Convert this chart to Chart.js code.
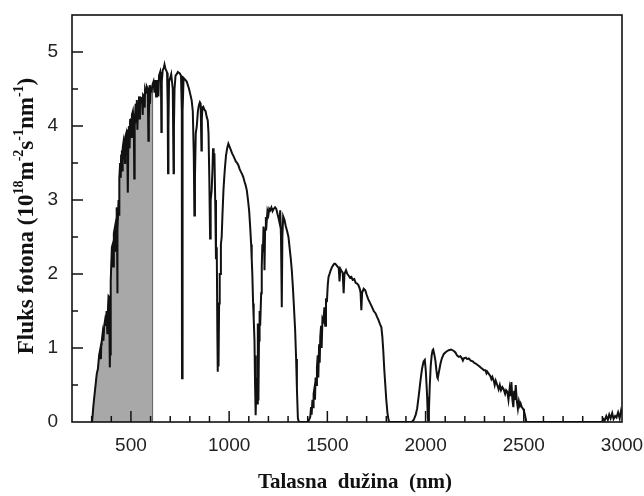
<!DOCTYPE html>
<html><head><meta charset="utf-8">
<script src="https://cdn.jsdelivr.net/npm/chart.js@4"></script>
<style>html,body{margin:0;padding:0;background:#fff}</style>
</head><body><canvas id="c" width="644" height="496"></canvas>
<script>
const wavelength = [302,310,318,326,332,338,345,347,349,351,356,360,364,368,372,376,380,382,386,389,392,393,395,396,398,403,407,410,413,419,423,424,427,428,430,431,432,437,440,441,445,448,450,454,457,458,462,466,470,471,476,478,480,483,485,487,491,493,496,500,502,505,510,515,517,519,524,527,530,533,536,541,543,546,551,556,560,562,567,570,572,577,581,586,589,591,595,597,600,605,610,615,620,625,628,632,637,640,643,649,653,655,657,662,667,671,675,680,684,687,689,691,694,700,705,709,713,717,719,722,727,733,739,744,749,755,759,760,762,764,768,775,784,790,796,803,809,815,820,823,826,830,835,841,846,851,855,859,861,864,868,874,880,886,891,895,899,903,906,911,915,918,921,925,929,933,937,940,942,944,946,949,952,954,958,962,966,971,975,979,984,990,996,1002,1008,1015,1021,1028,1034,1041,1047,1053,1060,1066,1072,1078,1084,1090,1096,1102,1107,1112,1115,1118,1122,1125,1129,1132,1134,1136,1139,1142,1146,1149,1152,1155,1158,1163,1166,1169,1172,1175,1178,1180,1183,1187,1191,1195,1200,1204,1209,1215,1221,1227,1234,1240,1247,1252,1256,1260,1264,1268,1271,1275,1282,1288,1295,1302,1308,1314,1319,1325,1330,1336,1341,1345,1350,1355,1400,1405,1410,1413,1417,1420,1424,1427,1430,1434,1437,1440,1444,1447,1451,1454,1458,1461,1464,1468,1471,1475,1480,1485,1489,1493,1498,1502,1506,1511,1517,1523,1530,1535,1540,1546,1552,1558,1562,1566,1572,1578,1583,1587,1595,1602,1608,1615,1622,1629,1637,1644,1651,1658,1665,1669,1673,1677,1685,1693,1700,1708,1719,1728,1736,1745,1753,1760,1767,1775,1780,1785,1790,1795,1800,1806,1812,1816,1930,1940,1950,1957,1965,1974,1982,1990,1996,2001,2005,2008,2011,2013,2017,2021,2026,2031,2036,2039,2044,2050,2055,2060,2062,2066,2071,2076,2083,2093,2105,2118,2130,2144,2152,2160,2169,2177,2185,2190,2195,2205,2212,2220,2230,2240,2247,2255,2265,2275,2283,2289,2297,2305,2310,2314,2322,2330,2335,2340,2348,2352,2357,2365,2372,2378,2384,2391,2398,2405,2410,2416,2422,2428,2433,2437,2442,2447,2451,2455,2459,2464,2470,2475,2480,2484,2490,2496,2501,2507,2513,2900,2905,2912,2920,2928,2935,2942,2950,2957,2965,2972,2980,2988,2995,3000];
const flux = [0,0.25,0.45,0.65,0.72,0.9,1.0,0.85,1.05,1.08,1.2,1.1,1.3,1.37,1.3,1.5,1.2,1.45,1.7,1.69,1.2,0.74,1.4,0.9,1.9,2.36,2.4,2.1,2.55,2.64,2.3,2.6,2.45,2.9,2.3,1.74,2.6,3.0,2.8,3.3,3.5,3.3,3.6,3.67,3.4,3.7,3.78,3.65,3.5,3.85,3.9,3.6,3.95,3.6,3.1,3.8,4.0,3.7,4.08,4.1,3.85,4.15,4.2,4.0,3.29,4.0,4.3,4.05,4.35,3.95,4.3,4.4,4.1,4.3,4.38,4.37,4.15,4.42,4.4,4.25,4.5,4.45,4.53,4.5,3.8,4.1,4.55,4.3,4.5,4.48,4.56,4.6,4.45,4.62,4.4,4.62,4.55,4.4,4.68,4.73,4.6,3.92,4.6,4.76,4.78,4.83,4.78,4.75,4.72,4.3,3.36,4.0,4.6,4.65,4.7,4.7,4.5,3.36,4.0,4.5,4.68,4.7,4.73,4.72,4.71,4.68,4.2,0.59,0.6,4.2,4.65,4.63,4.6,4.55,4.5,4.42,4.35,4.2,3.6,2.79,3.3,3.9,3.99,4.2,4.28,4.32,4.3,3.67,4.1,4.25,4.26,4.22,4.2,4.12,4.08,3.9,3.3,2.48,3.0,3.13,3.4,3.7,3.5,3.63,3.0,2.2,2.36,1.2,0.68,1.5,0.75,1.6,2.0,2.0,2.4,2.5,2.8,3.13,3.3,3.45,3.6,3.7,3.76,3.72,3.68,3.63,3.6,3.56,3.52,3.5,3.47,3.42,3.38,3.35,3.31,3.25,3.2,3.13,3.0,2.85,2.64,2.4,2.2,2.0,1.6,1.4,1.1,0.5,0.9,0.09,0.6,0.25,1.33,0.29,1.1,1.5,1.3,1.74,2.1,2.4,2.3,2.64,2.5,2.05,2.6,2.77,2.7,2.85,2.8,2.88,2.86,2.9,2.85,2.88,2.9,2.88,2.8,2.75,2.7,2.86,2.5,1.55,2.5,2.78,2.73,2.65,2.58,2.5,2.35,2.2,2.05,1.8,1.55,1.24,0.85,0.45,0.05,0,0,0.02,0.05,0.07,0.2,0.1,0.3,0.2,0.38,0.45,0.3,0.6,0.5,0.74,0.9,0.6,1.05,0.8,1.15,1.3,1.0,1.4,1.37,1.55,1.3,1.65,1.64,1.85,1.96,2.0,2.05,2.09,2.12,2.14,2.14,2.12,2.1,2.08,1.9,2.07,2.04,2.02,1.74,2.0,2.05,2.0,1.98,1.95,1.96,1.92,1.93,1.88,1.87,1.85,1.8,1.75,1.51,1.75,1.8,1.78,1.72,1.66,1.6,1.55,1.5,1.47,1.42,1.38,1.33,1.28,1.15,0.95,0.7,0.5,0.3,0.12,0.02,0,0,0.03,0.1,0.18,0.35,0.56,0.72,0.82,0.84,0.7,0.5,0.34,0.1,0.02,0.15,0.47,0.75,0.9,0.97,0.98,0.92,0.83,0.7,0.6,0.59,0.65,0.72,0.79,0.86,0.92,0.95,0.97,0.98,0.96,0.94,0.9,0.88,0.89,0.86,0.83,0.86,0.87,0.85,0.86,0.83,0.82,0.8,0.79,0.77,0.75,0.73,0.72,0.7,0.7,0.66,0.68,0.65,0.62,0.58,0.61,0.55,0.5,0.56,0.5,0.44,0.5,0.43,0.47,0.44,0.38,0.43,0.41,0.3,0.45,0.35,0.54,0.3,0.2,0.42,0.3,0.5,0.3,0.18,0.28,0.22,0.25,0.2,0.18,0.15,0.08,0,0,0.04,0.02,0.08,0.03,0.1,0.05,0.12,0.04,0.08,0.06,0.13,0.05,0.15,0.1];
const xTickValues = [500,1000,1500,2000,2500,3000];
const yTickValues = [0,1,2,3,4,5];
const shadeEnd = 610;
const xTitle = 'Talasna  dužina  (nm)';
const yTitleParts = [['Fluks fotona (10',0],['18',1],['m',0],['-2',1],['s',0],['-1',1],['nm',0],['-1',1],[')',0]];

const linePts = wavelength.map((w,i)=>({x:w,y:flux[i]}));
const shadePts = linePts.filter(p=>p.x<=shadeEnd);
shadePts.push({x:shadeEnd,y:0});

const decor = {
  id:'decor',
  afterDatasetsDraw(chart){
    const ctx = chart.ctx, a = chart.chartArea;
    const xs = chart.scales.x, ys = chart.scales.y;
    ctx.save();
    ctx.strokeStyle = '#111'; ctx.lineWidth = 1.5;
    for(let v=300; v<3000; v+=100){
      const px = xs.getPixelForValue(v);
      const len = (v%500===0)?11:6;
      ctx.beginPath(); ctx.moveTo(px,a.bottom); ctx.lineTo(px,a.bottom-len); ctx.stroke();
    }
    for(let v=0.5; v<5.5; v+=0.5){
      const py = ys.getPixelForValue(v);
      const len = (Math.abs(v-Math.round(v))<1e-6)?11:6;
      ctx.beginPath(); ctx.moveTo(a.left,py); ctx.lineTo(a.left+len,py); ctx.stroke();
    }
    ctx.lineWidth = 1.6;
    ctx.strokeRect(a.left, a.top, a.right-a.left, a.bottom-a.top);
    ctx.fillStyle = '#111';
    ctx.font = 'bold 21px "Liberation Serif"';
    ctx.textAlign = 'center'; ctx.textBaseline = 'middle';
    ctx.fillText(xTitle, 355, 483);
    const big = 'bold 23px "Liberation Serif"', small = 'bold 14px "Liberation Serif"';
    let total = 0;
    yTitleParts.forEach(([t,s])=>{ctx.font = s?small:big; total += ctx.measureText(t).width;});
    ctx.translate(25, 216); ctx.rotate(-Math.PI/2);
    ctx.textAlign = 'left'; ctx.textBaseline = 'alphabetic';
    let x = -total/2;
    yTitleParts.forEach(([t,s])=>{
      ctx.font = s?small:big;
      ctx.fillText(t, x, s? -2 : 8);
      x += ctx.measureText(t).width;
    });
    ctx.restore();
  }
};

new Chart(document.getElementById('c'), {
  type:'line',
  data:{datasets:[
    {data:shadePts, borderColor:'#6a6a6a', borderWidth:1, backgroundColor:'#a8a8a8', fill:'origin', pointRadius:0, order:2},
    {data:linePts, borderColor:'#111', borderWidth:2, fill:false, pointRadius:0, order:1}
  ]},
  options:{
    responsive:false, devicePixelRatio:1, animation:false,
    layout:{padding:{left:0,right:22,top:15,bottom:0}},
    plugins:{legend:{display:false}, tooltip:{enabled:false}},
    scales:{
      x:{type:'linear', min:200, max:3000,
        afterBuildTicks:s=>{s.ticks = xTickValues.map(v=>({value:v}));},
        afterFit:s=>{s.height = 74; s.paddingLeft = 0; s.paddingRight = 0;},
        grid:{display:false, drawTicks:false}, border:{display:false},
        ticks:{padding:12, maxRotation:0, color:'#222', callback:v=>String(v), font:{family:'"Liberation Sans"', size:19}}},
      y:{type:'linear', min:0, max:5.5,
        afterBuildTicks:s=>{s.ticks = yTickValues.map(v=>({value:v}));},
        afterFit:s=>{s.width = 72; s.paddingTop = 0; s.paddingBottom = 0;},
        grid:{display:false, drawTicks:false}, border:{display:false},
        ticks:{padding:14, color:'#222', callback:v=>String(v), font:{family:'"Liberation Sans"', size:19}}}
    }
  },
  plugins:[decor]
});
</script></body></html>
